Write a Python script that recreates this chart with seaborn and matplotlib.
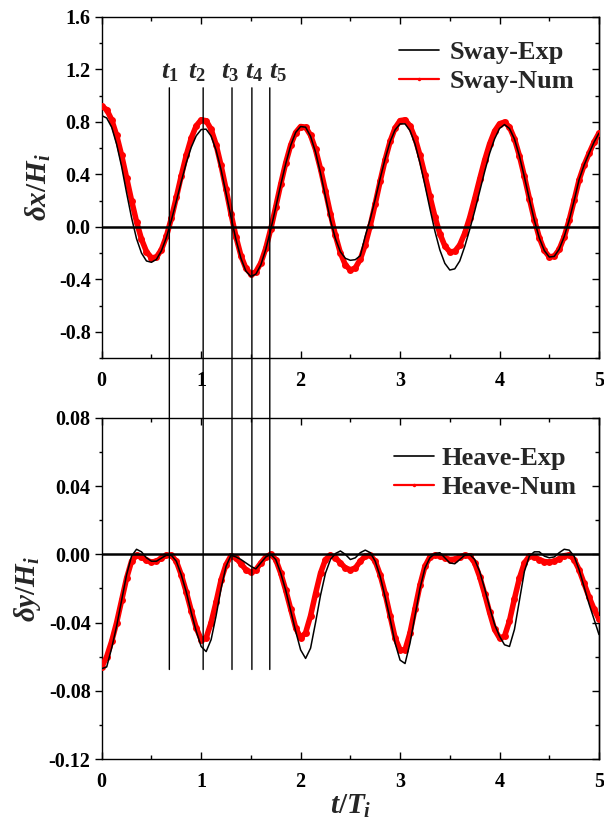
import numpy as np
import pandas as pd
import matplotlib
matplotlib.use("Agg")
import matplotlib.pyplot as plt
import seaborn as sns
from matplotlib.patches import ConnectionPatch
from matplotlib.lines import Line2D
from matplotlib.ticker import MultipleLocator, FormatStrFormatter

# ---------------- data ----------------
t_grid = np.round(np.linspace(0, 5, 101), 2)

sway_exp = [0.848, 0.83, 0.76, 0.63, 0.46, 0.26, 0.07, -0.09, -0.20, -0.26,
            -0.27, -0.248, -0.183, -0.081, 0.049, 0.195, 0.345, 0.487, 0.606, 0.694,
            0.742, 0.745, 0.692, 0.584, 0.435, 0.258, 0.075, -0.097, -0.240, -0.337,
            -0.379, -0.36, -0.29, -0.17, -0.02, 0.15, 0.32, 0.48, 0.62, 0.72,
            0.765, 0.76, 0.69, 0.57, 0.41, 0.23, 0.05, -0.09, -0.19, -0.24,
            -0.255, -0.25, -0.22, -0.07, 0.06, 0.21, 0.37, 0.52, 0.65, 0.74,
            0.785, 0.785, 0.734, 0.632, 0.488, 0.318, 0.139, -0.032, -0.176, -0.278,
            -0.329, -0.32, -0.26, -0.15, -0.02, 0.12, 0.27, 0.42, 0.56, 0.67,
            0.75, 0.78, 0.75, 0.67, 0.54, 0.38, 0.21, 0.05, -0.085, -0.18,
            -0.23, -0.225, -0.17, -0.075, 0.05, 0.20, 0.36, 0.47, 0.56, 0.645,
            0.715]

sway_num = [0.92, 0.894, 0.817, 0.698, 0.546, 0.375, 0.201, 0.040, -0.094, -0.189,
            -0.236, -0.231, -0.174, -0.073, 0.064, 0.224, 0.389, 0.545, 0.676, 0.770,
            0.816, 0.809, 0.744, 0.627, 0.468, 0.287, 0.099, -0.076, -0.220, -0.317,
            -0.359, -0.343, -0.275, -0.163, -0.015, 0.153, 0.326, 0.487, 0.623, 0.719,
            0.765, 0.760, 0.699, 0.590, 0.442, 0.273, 0.098, -0.065, -0.199, -0.290,
            -0.329, -0.313, -0.247, -0.136, 0.009, 0.176, 0.349, 0.512, 0.652, 0.754,
            0.810, 0.816, 0.770, 0.677, 0.547, 0.394, 0.232, 0.078, -0.052, -0.145,
            -0.190, -0.187, -0.138, -0.049, 0.071, 0.213, 0.363, 0.507, 0.632, 0.729,
            0.786, 0.799, 0.761, 0.672, 0.542, 0.384, 0.216, 0.055, -0.082, -0.180,
            -0.228, -0.224, -0.172, -0.077, 0.051, 0.202, 0.358, 0.47, 0.56, 0.645,
            0.715]

heave_exp = [-0.067, -0.066, -0.055, -0.042, -0.027, -0.012, -0.001, 0.003, 0.0015, -0.002,
             -0.004, -0.004, -0.0022, -0.0005, -0.0005, -0.004, -0.012, -0.022, -0.034, -0.045,
             -0.054, -0.057, -0.050, -0.036, -0.020, -0.007, -0.0005, -0.0015, -0.003, -0.005,
             -0.007, -0.0085, -0.005, -0.0015, 0.0, -0.003, -0.011, -0.021, -0.033, -0.045,
             -0.056, -0.061, -0.055, -0.040, -0.024, -0.011, -0.003, 0.0005, 0.002, 0.0,
             -0.003, -0.002, 0.001, 0.0025, 0.001, -0.004, -0.013, -0.025, -0.038, -0.052,
             -0.062, -0.064, -0.052, -0.036, -0.020, -0.008, -0.002, 0.0005, 0.001, -0.002,
             -0.005, -0.0055, -0.003, -0.0005, 0.0, -0.003, -0.010, -0.020, -0.031, -0.041,
             -0.048, -0.053, -0.054, -0.044, -0.027, -0.010, -0.001, 0.0015, 0.0015, -0.001,
             -0.002, -0.0015, 0.001, 0.003, 0.0025, -0.001, -0.009, -0.019, -0.029, -0.038,
             -0.047]

heave_num = [-0.066, -0.060, -0.051, -0.040, -0.027, -0.014, -0.004, -0.0005, -0.0015, -0.0035,
             -0.0045, -0.004, -0.0022, -0.0005, -0.0005, -0.004, -0.012, -0.022, -0.033, -0.043,
             -0.050, -0.049, -0.040, -0.028, -0.015, -0.006, -0.0008, -0.002, -0.0055, -0.009,
             -0.0105, -0.009, -0.005, -0.0015, 0.0, -0.003, -0.011, -0.021, -0.032, -0.043,
             -0.049, -0.046, -0.036, -0.023, -0.011, -0.003, -0.0005, -0.002, -0.005, -0.008,
             -0.009, -0.008, -0.004, -0.001, -0.0005, -0.004, -0.012, -0.023, -0.036, -0.049,
             -0.056, -0.056, -0.046, -0.032, -0.018, -0.007, -0.0015, -0.0005, -0.001, -0.002,
             -0.003, -0.0028, -0.0015, -0.0005, -0.001, -0.005, -0.013, -0.023, -0.034, -0.044,
             -0.049, -0.048, -0.039, -0.026, -0.014, -0.005, -0.001, -0.0015, -0.003, -0.0042,
             -0.0045, -0.004, -0.0025, -0.0008, -0.0003, -0.003, -0.009, -0.017, -0.025, -0.032,
             -0.038]

t_marks = [0.68, 1.02, 1.31, 1.51, 1.69]
t_mark_labels = [r"$t_1$", r"$t_2$", r"$t_3$", r"$t_4$", r"$t_5$"]
t_label_x = [0.686, 0.958, 1.29, 1.53, 1.77]

top_labels = ["Sway-Exp", "Sway-Num"]
bottom_labels = ["Heave-Exp", "Heave-Num"]

# ---------------- style ----------------
sns.set_theme(style="ticks")
plt.rcParams.update({
    "font.family": ["Liberation Serif", "DejaVu Serif"],
    "font.weight": "bold",
    "axes.labelweight": "bold",
    "axes.unicode_minus": False,
    "mathtext.fontset": "custom",
    "mathtext.it": "Liberation Serif:italic:bold",
    "mathtext.rm": "Liberation Serif:bold",
    "mathtext.bf": "Liberation Serif:bold",
    "mathtext.sf": "Liberation Serif:bold",
    "axes.edgecolor": "black",
    "axes.linewidth": 1.0,
    "xtick.color": "black",
    "ytick.color": "black",
})

fig = plt.figure(figsize=(6.04, 8.21), dpi=100)
ax1 = fig.add_axes([0.1684, 0.5639, 0.8233, 0.4154])
ax2 = fig.add_axes([0.1684, 0.0755, 0.8233, 0.4154])

df_top = pd.DataFrame({"t": t_grid, "exp": sway_exp, "num": sway_num})
df_bot = pd.DataFrame({"t": t_grid, "exp": heave_exp, "num": heave_num})

for ax, df in [(ax1, df_top), (ax2, df_bot)]:
    sns.lineplot(data=df, x="t", y="num", ax=ax, color="red", lw=4.0,
                 marker="o", markersize=5.0, markeredgewidth=0, zorder=3,
                 estimator=None, legend=False)
    sns.lineplot(data=df, x="t", y="exp", ax=ax, color="black", lw=1.1,
                 zorder=4, estimator=None, legend=False)
    ax.axhline(0, color="black", lw=1.8, zorder=5)
    ax.set_xlim(0, 5)
    ax.xaxis.set_major_locator(MultipleLocator(1))
    ax.xaxis.set_minor_locator(MultipleLocator(0.5))
    ax.tick_params(axis="x", which="major", direction="in", length=5, width=1,
                   top=True, bottom=True, labelsize=14.5, pad=9)
    ax.tick_params(axis="x", which="minor", direction="in", length=3, width=1,
                   top=True, bottom=True)
    ax.tick_params(axis="y", which="major", direction="out", length=5, width=1,
                   labelsize=14.5, pad=3, right=False)
    ax.tick_params(axis="y", which="minor", direction="out", length=2.5, width=1,
                   right=False)
    for s in ax.spines.values():
        s.set_visible(True)
        s.set_color("black")
        s.set_linewidth(1.0)
    ax.set_xlabel("")

ax1.set_ylim(-1.0, 1.6)
ax1.yaxis.set_major_locator(MultipleLocator(0.4))
ax1.yaxis.set_minor_locator(MultipleLocator(0.2))
ax1.yaxis.set_major_formatter(FormatStrFormatter("%.1f"))
ax1.xaxis.set_major_formatter(FormatStrFormatter("%d"))

ax2.set_ylim(-0.12, 0.08)
ax2.yaxis.set_major_locator(MultipleLocator(0.04))
ax2.yaxis.set_minor_locator(MultipleLocator(0.02))
ax2.yaxis.set_major_formatter(FormatStrFormatter("%.2f"))
ax2.xaxis.set_major_formatter(FormatStrFormatter("%d"))

for ax, maj, mnr in [(ax1, 0.4, 0.2), (ax2, 0.04, 0.02)]:
    sec = ax.secondary_yaxis("right")
    sec.yaxis.set_major_locator(MultipleLocator(maj))
    sec.yaxis.set_minor_locator(MultipleLocator(mnr))
    sec.tick_params(which="major", direction="in", length=5, width=1, labelright=False)
    sec.tick_params(which="minor", direction="in", length=3, width=1, labelright=False)
    sec.spines["right"].set_linewidth(1.0)

ax1.set_ylabel(r"$\delta x/H_i$", fontsize=21, labelpad=4)
ax2.set_ylabel(r"$\delta y/H_i$", fontsize=21, labelpad=4)
ax2.set_xlabel(r"$t/T_i$", fontsize=21, labelpad=1)

# vertical time markers spanning both panels
for xm in t_marks:
    cp = ConnectionPatch(xyA=(xm, 1.06), coordsA=ax1.transData,
                         xyB=(xm, -0.0675), coordsB=ax2.transData,
                         color="black", lw=1.0, zorder=6)
    fig.add_artist(cp)
for xl, lab in zip(t_label_x, t_mark_labels):
    ax1.text(xl, 1.175, lab, fontsize=19, ha="center", va="center")

# legends
leg_prop = {"family": "Liberation Serif", "weight": "bold", "size": 19}
h_exp = Line2D([], [], color="black", lw=1.2)
h_num = Line2D([], [], color="red", lw=1.6, marker="o", markersize=2.5, markeredgewidth=0)
ax1.legend([h_exp, h_num], top_labels, loc="upper left", bbox_to_anchor=(0.598, 0.93),
           frameon=False, prop=leg_prop, handlelength=1.5, handletextpad=0.4,
           labelspacing=0.2, borderpad=0, borderaxespad=0)
ax2.legend([h_exp, h_num], bottom_labels, loc="upper left", bbox_to_anchor=(0.588, 0.915),
           frameon=False, prop=leg_prop, handlelength=1.5, handletextpad=0.3,
           labelspacing=0.2, borderpad=0, borderaxespad=0)

fig.savefig("out.png", dpi=100)
